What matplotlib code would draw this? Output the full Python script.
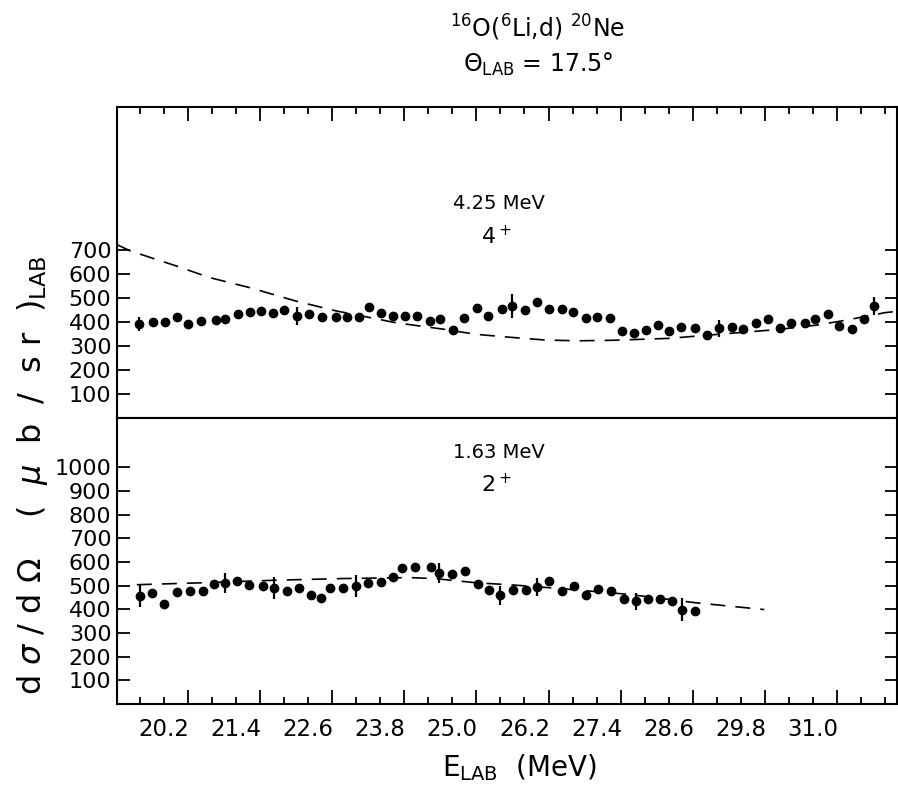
import matplotlib
matplotlib.use("Agg")
import matplotlib.pyplot as plt

plt.rcParams["font.family"] = ["DejaVu Sans"]
plt.rcParams["mathtext.fontset"] = "dejavusans"

# 4.25 MeV, 4+ : excitation function, energy (MeV) vs cross section (ub/sr)
e_425 = [19.78, 20.02, 20.22, 20.42, 20.60, 20.81, 21.07, 21.22, 21.43, 21.63,
         21.81, 22.01, 22.20, 22.41, 22.62, 22.83, 23.07, 23.25, 23.44, 23.61,
         23.81, 24.01, 24.21, 24.41, 24.62, 24.80, 25.01, 25.20, 25.41, 25.60,
         25.82, 26.00, 26.21, 26.40, 26.61, 26.82, 27.01, 27.23, 27.41, 27.62,
         27.82, 28.02, 28.22, 28.42, 28.61, 28.81, 29.03, 29.24, 29.44, 29.66,
         29.83, 30.05, 30.26, 30.45, 30.63, 30.86, 31.03, 31.25, 31.43, 31.65,
         31.85, 32.02]
xs_425 = [393, 400, 400, 422, 390, 405, 408, 414, 433, 440,
          446, 439, 450, 425, 432, 422, 422, 420, 420, 462,
          439, 425, 425, 425, 404, 414, 365, 415, 460, 424,
          454, 467, 450, 483, 454, 455, 443, 418, 422, 415,
          362, 354, 367, 386, 361, 379, 376, 345, 374, 379,
          370, 397, 414, 376, 397, 397, 414, 433, 383, 371,
          411, 467]
err_425 = [29, 0, 0, 0, 0, 0, 0, 0, 0, 0,
           0, 0, 0, 36, 0, 0, 0, 0, 0, 0,
           0, 0, 0, 0, 0, 0, 0, 0, 0, 0,
           0, 49, 0, 0, 0, 0, 0, 0, 0, 0,
           0, 0, 0, 0, 0, 0, 0, 0, 36, 0,
           0, 0, 0, 0, 0, 0, 0, 0, 0, 0,
           0, 38]
# calculated curve
calc_e_425 = [19.42, 19.64, 20.41, 20.96, 21.63, 22.40, 23.07, 23.50, 24.06, 24.83,
              25.39, 25.94, 26.55, 27.10, 27.65, 28.60, 29.87, 30.42, 31.09, 31.53,
              32.20, 32.38]
calc_xs_425 = [722, 696, 633, 585, 543, 487, 446, 425, 397, 371,
               349, 337, 325, 322, 324, 332, 358, 369, 388, 407,
               439, 444]

# 1.63 MeV, 2+
e_163 = [19.81, 20.01, 20.20, 20.42, 20.64, 20.85, 21.04, 21.22, 21.41, 21.61,
         21.85, 22.04, 22.25, 22.45, 22.64, 22.82, 22.97, 23.18, 23.40, 23.60,
         23.82, 24.01, 24.16, 24.37, 24.64, 24.78, 25.00, 25.21, 25.42, 25.61,
         25.80, 26.01, 26.22, 26.40, 26.61, 26.82, 27.02, 27.23, 27.42, 27.64,
         27.86, 28.05, 28.25, 28.46, 28.65, 28.82, 29.04]
xs_163 = [456, 469, 421, 472, 477, 477, 506, 511, 520, 501,
          497, 490, 477, 490, 459, 448, 488, 492, 497, 511,
          517, 537, 576, 579, 579, 555, 548, 561, 506, 480,
          459, 483, 483, 494, 518, 476, 499, 462, 485, 477,
          442, 434, 442, 445, 434, 399, 393]
err_163 = [46, 0, 0, 0, 0, 0, 0, 42, 0, 0,
           0, 47, 0, 0, 0, 0, 0, 0, 46, 0,
           0, 0, 0, 0, 0, 42, 0, 0, 0, 0,
           40, 0, 0, 37, 0, 0, 0, 0, 0, 0,
           0, 35, 0, 0, 0, 49, 0]
calc_e_163 = [19.75, 20.96, 22.07, 23.18, 24.29, 24.70, 25.40, 26.00, 26.83, 27.94,
              29.04, 30.19]
calc_xs_163 = [504, 513, 523, 530, 534, 530, 512, 503, 487, 463,
               428, 399]

tick_labels = ["20.2", "21.4", "22.6", "23.8", "25.0", "26.2", "27.4", "28.6", "29.8", "31.0"]
long_ticks = [20.6, 21.8, 23.0, 24.2, 25.4, 26.6, 27.8, 29.0, 30.2, 31.4]
short_ticks = [19.8, 20.2, 21.0, 21.4, 22.2, 22.6, 23.4, 23.8, 24.6, 25.0,
               25.8, 26.2, 27.0, 27.4, 28.2, 28.6, 29.4, 29.8, 30.6, 31.0,
               31.8, 32.2]

fig = plt.figure(figsize=(8.98, 7.92), dpi=100)
ax_top = fig.add_axes([0.1303, 0.472, 0.8687, 0.393])
ax_bot = fig.add_axes([0.1303, 0.111, 0.8687, 0.361])

for ax in (ax_top, ax_bot):
    ax.set_xlim(19.42, 32.4)
    for s in ax.spines.values():
        s.set_linewidth(1.5)
    ax.tick_params(axis="both", which="both", direction="in", colors="black",
                   width=1.3, labelsize=16)
    ax.tick_params(axis="y", which="major", length=9, left=True, right=True, pad=4)
    ax.set_xticks(long_ticks)
    ax.set_xticklabels([])
    minor_labels = [t if t in tick_labels else "" for t in ["%.1f" % v for v in short_ticks]]
    ax.set_xticks(short_ticks, minor=True)
    ax.set_xticklabels(minor_labels, minor=True)
    ax.tick_params(axis="x", which="major", length=10)
    ax.tick_params(axis="x", which="minor", length=5, pad=10, labelsize=16.5)

# upper panel: ticks only along the top edge
ax_top.set_ylim(0, 1295)
ax_top.set_yticks([100, 200, 300, 400, 500, 600, 700])
ax_top.tick_params(axis="x", which="both", top=True, bottom=False,
                   labelbottom=False, labeltop=False)
ax_top.errorbar(e_425, xs_425, yerr=err_425, fmt="o", ms=6, color="black",
                ecolor="black", elinewidth=1.6, capsize=0)
ax_top.plot(calc_e_425, calc_xs_425, color="black", lw=1.2, dashes=(9, 6))
ax_top.text(25.78, 892, "4.25 MeV", ha="center", va="center", fontsize=14)
ax_top.text(25.73, 758, "4$^+$", ha="center", va="center", fontsize=16)

# lower panel
ax_bot.set_ylim(0, 1207)
ax_bot.set_yticks([100, 200, 300, 400, 500, 600, 700, 800, 900, 1000])
ax_bot.tick_params(axis="x", which="both", top=False, bottom=True)
ax_bot.errorbar(e_163, xs_163, yerr=err_163, fmt="o", ms=6, color="black",
                ecolor="black", elinewidth=1.6, capsize=0)
ax_bot.plot(calc_e_163, calc_xs_163, color="black", lw=1.2, dashes=(9, 6))
ax_bot.text(25.78, 1063, "1.63 MeV", ha="center", va="center", fontsize=14)
ax_bot.text(25.73, 928, "2$^+$", ha="center", va="center", fontsize=16)

fig.text(0.599, 0.965, r"$^{16}$O($^{6}$Li,d) $^{20}$Ne", ha="center", va="center",
         fontsize=17)
fig.text(0.599, 0.919, r"$\Theta_{\mathrm{LAB}}$ = 17.5°", ha="center", va="center",
         fontsize=17)
fig.text(0.579, 0.031, r"E$_{\mathrm{LAB}}$  (MeV)", ha="center", va="center",
         fontsize=20)
fig.text(0.036, 0.40,
         r"d $\sigma$ / d $\Omega$    (  $\mu$  b  /  s r  )$_{\mathrm{LAB}}$",
         ha="center", va="center", rotation=90, fontsize=23)

fig.savefig("out.png", dpi=100, facecolor="white")
